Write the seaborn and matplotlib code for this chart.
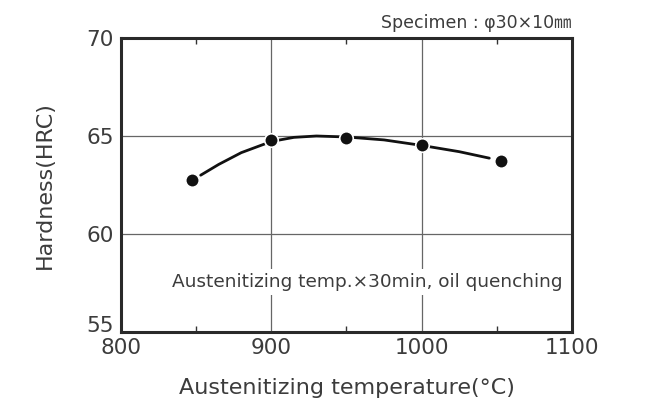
import matplotlib
matplotlib.use('Agg')
import matplotlib.pyplot as plt
import pandas as pd
import seaborn as sns
from matplotlib.ticker import MultipleLocator

# measured points
temps = [847, 900, 950, 1000, 1053]
hardness = [62.75, 64.8, 64.9, 64.55, 63.7]

# smooth trend line
curve_temps = [853, 865, 880, 900, 915, 930, 950, 975, 1000, 1025, 1045]
curve_hardness = [63.0, 63.55, 64.15, 64.72, 64.93, 65.0, 64.95, 64.8, 64.52, 64.2, 63.87]

x_ticks = [800, 900, 1000, 1100]
y_ticks = [55, 60, 65, 70]

sns.set_style('white')
plt.rcParams['font.family'] = ['DejaVu Sans', 'Noto Sans CJK JP']

df_pts = pd.DataFrame({'temp': temps, 'hrc': hardness})
df_curve = pd.DataFrame({'temp': curve_temps, 'hrc': curve_hardness})

txt = '#3c3c3c'

fig = plt.figure(figsize=(6.45, 4.03), dpi=100)
ax = fig.add_axes([0.1876, 0.1762, 0.6992, 0.7295])

ax.set_xlim(800, 1100)
ax.set_ylim(55, 70)
ax.set_xticks(x_ticks)
ax.set_yticks(y_ticks)
ax.xaxis.set_minor_locator(MultipleLocator(50))

for v in [900, 1000]:
    ax.axvline(v, color='#666666', lw=0.9, zorder=1)
for v in [60, 65]:
    ax.axhline(v, color='#666666', lw=0.9, zorder=1)

sns.lineplot(data=df_curve, x='temp', y='hrc', ax=ax, color='#111111', lw=2.0, zorder=3)
sns.scatterplot(data=df_pts, x='temp', y='hrc', ax=ax, color='#111111', s=95,
                edgecolor='white', linewidth=1.2, zorder=4)

ax.text(1094, 57.55, 'Austenitizing temp.×30min, oil quenching', ha='right', va='center',
        fontsize=13.3, color=txt, zorder=2,
        bbox=dict(boxstyle='square,pad=0.2', fc='white', ec='none'))

ax.text(1.0, 1.022, 'Specimen : φ30×10㎜', transform=ax.transAxes, ha='right', va='bottom',
        fontsize=12.5, color=txt)

ax.tick_params(axis='both', which='major', length=0, labelsize=15.5, labelcolor=txt, pad=4)
ax.tick_params(axis='x', which='minor', direction='in', length=4, width=1, color='#333333',
               top=True, bottom=True)
ax.tick_params(axis='y', which='major', pad=5)

ax.set_xlabel('Austenitizing temperature(°C)', fontsize=16, color=txt, labelpad=15)
ax.set_ylabel('Hardness(HRC)', fontsize=16, color=txt, labelpad=23)

fig.canvas.draw()
ax.get_yticklabels()[0].set_verticalalignment('baseline')

for s in ax.spines.values():
    s.set_color('#2a2a2a')
    s.set_linewidth(2.2)
    s.set_zorder(5)

fig.savefig('out.png', dpi=100)
